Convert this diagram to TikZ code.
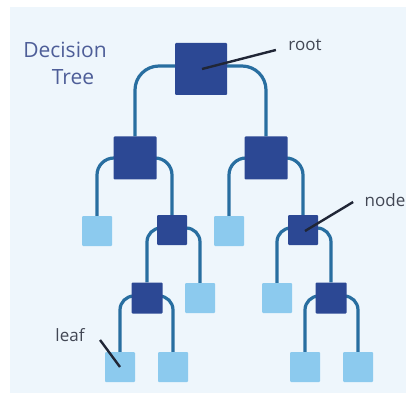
\documentclass[tikz,border=0pt]{standalone}
\usepackage{fontspec}
\setmainfont{Open Sans}
\pgfdeclarelayer{bg}
\pgfdeclarelayer{links}
\pgfsetlayers{bg,links,main}
\definecolor{bgblue}{RGB}{238,246,252}
\definecolor{darkbox}{RGB}{44,72,148}
\definecolor{lightbox}{RGB}{140,202,238}
\definecolor{branchcol}{RGB}{40,110,160}
\definecolor{titlecol}{RGB}{78,94,152}
\definecolor{pointcol}{RGB}{32,38,54}
\begin{document}
\begin{tikzpicture}[x=1pt,y=-1pt,
    inner/.style={fill=darkbox, minimum size=#1, inner sep=0pt, rounded corners=1pt},
    leafbox/.style={fill=lightbox, minimum size=30pt, inner sep=0pt, rounded corners=1pt},
    branch/.style={draw=branchcol, line width=3.2pt, rounded corners=#1},
    pointer/.style={draw=pointcol, line width=2.4pt},
    lbl/.style={font=\fontsize{17}{20}\selectfont, text=pointcol!85}]
    \useasboundingbox (0,0) rectangle (406,403);
    \begin{pgfonlayer}{bg}
    \fill[bgblue] (10,7) rectangle (406,393);
    \end{pgfonlayer}

    \node [font=\fontsize{21}{25}\selectfont, text=titlecol] (title1) at (65,50) {Decision};
    \node [font=\fontsize{21}{25}\selectfont, text=titlecol] (title2) at (73,77) {Tree};

    \node [inner=52pt] (root) at (201,69) {};
    \node [inner=43pt] (d1) at (135,158) {};
    \node [inner=43pt] (e1) at (266,158) {};
    \node [leafbox] (d2) at (97,231) {};
    \node [inner=30pt] (d3) at (172,230) {};
    \node [leafbox] (e2) at (229,231) {};
    \node [inner=30pt] (e3) at (303,230) {};
    \node [inner=31pt] (d4) at (147,298) {};
    \node [leafbox] (d5) at (200,298) {};
    \node [leafbox] (e4) at (277,298) {};
    \node [inner=31pt] (e5) at (331,298) {};
    \node [leafbox] (d6) at (120,367) {};
    \node [leafbox] (d7) at (173,367) {};
    \node [leafbox] (e6) at (305,367) {};
    \node [leafbox] (e7) at (358,367) {};

    \begin{pgfonlayer}{links}
    \draw[branch=24pt] ([yshift=3pt]root.center) -| (d1);
    \draw[branch=24pt] ([yshift=3pt]root.center) -| (e1);
    \draw[branch=17pt] (d1.center) -| (d2);
    \draw[branch=17pt] (d1.center) -| (d3);
    \draw[branch=17pt] (e1.center) -| (e2);
    \draw[branch=17pt] (e1.center) -| (e3);
    \draw[branch=14pt] ([yshift=2pt]d3.center) -| (d4);
    \draw[branch=14pt] ([yshift=2pt]d3.center) -| (d5);
    \draw[branch=14pt] ([yshift=2pt]e3.center) -| (e4);
    \draw[branch=14pt] ([yshift=2pt]e3.center) -| (e5);
    \draw[branch=14pt] ([yshift=2pt]d4.center) -| (d6);
    \draw[branch=14pt] ([yshift=2pt]d4.center) -| (d7);
    \draw[branch=14pt] ([yshift=2pt]e5.center) -| (e6);
    \draw[branch=14pt] ([yshift=2pt]e5.center) -| (e7);
    \end{pgfonlayer}

    \node [lbl] (rootlbl) at (305,45) {root};
    \node [lbl] (nodelbl) at (385,200) {node};
    \node [lbl] (leaflbl) at (70,335) {leaf};
    \draw[pointer] ([xshift=1pt]root.center) -- ([xshift=-9pt,yshift=-5pt]rootlbl.west);
    \draw[pointer] ([xshift=2pt,yshift=-1pt]e3.center) -- ([xshift=-8pt,yshift=-2pt]nodelbl.west);
    \draw[pointer] ([xshift=12pt,yshift=-5pt]leaflbl.east) -- (d6.center);
\end{tikzpicture}
\end{document}
